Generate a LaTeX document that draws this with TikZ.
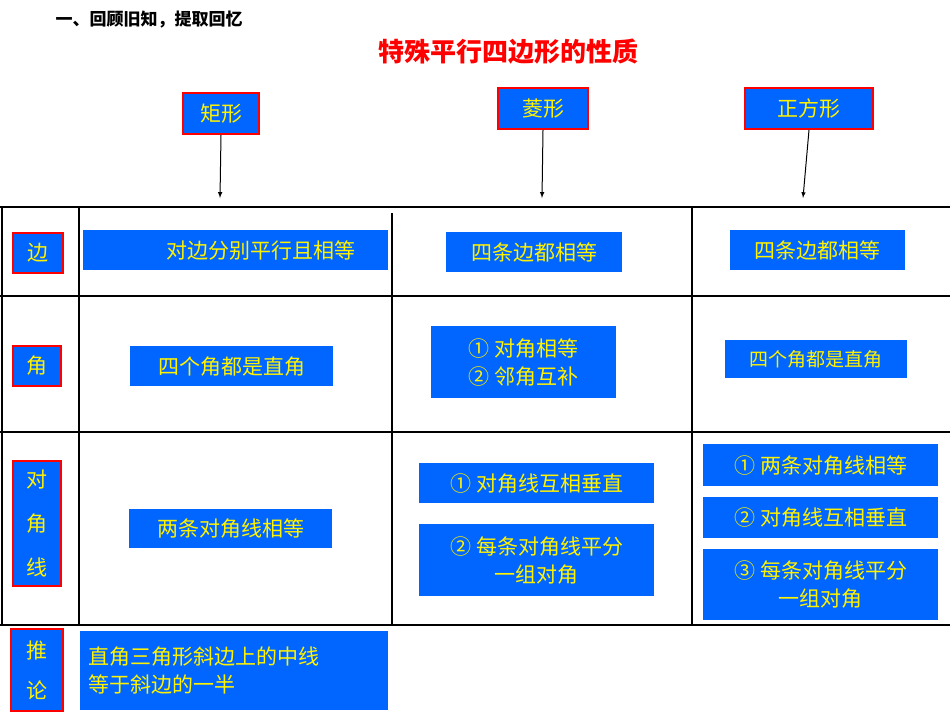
\documentclass[tikz,border=0pt]{standalone}
\usepackage{fontspec}
\setmainfont{Noto Sans CJK SC}[BoldFont={Noto Sans CJK SC Bold}]
\newfontfamily\cjk{Noto Sans CJK SC}
\begin{document}
\begin{tikzpicture}[x=1pt,y=-1pt,
  hdr/.style={draw=red,line width=2pt,fill=blue!60!cyan!100!black,fill={rgb,255:red,0;green,102;blue,255},text=yellow,font=\cjk\fontsize{21}{24}\selectfont,inner sep=0pt,anchor=north west},
  lab/.style={draw=red,line width=2pt,fill={rgb,255:red,0;green,102;blue,255},text=yellow,font=\cjk\fontsize{21}{24}\selectfont,inner sep=0pt,anchor=north west,align=center},
  cell/.style={fill={rgb,255:red,0;green,102;blue,255},text=yellow,font=\cjk\fontsize{21}{28}\selectfont,inner sep=0pt,anchor=north west,align=center},
  grid/.style={line width=1.6pt},
  arr/.style={-latex,line width=1pt}]
\useasboundingbox (0,0) rectangle (950,713);
\node[anchor=west,font=\cjk\bfseries\fontsize{17}{20}\selectfont] (t0) at (52,20) {一、回顾旧知，提取回忆};
\node[text=red,font=\cjk\bfseries\fontsize{26}{30}\selectfont] (t1) at (508,52) {特殊平行四边形的性质};
\node[hdr,minimum width=76,minimum height=41] (h1) at (182,92) {矩形};
\node[hdr,minimum width=90,minimum height=41] (h2) at (497,87) {菱形};
\node[hdr,minimum width=128,minimum height=41] (h3) at (744,87) {正方形};
\coordinate (a1) at (220,198); \coordinate (a2) at (542,198); \coordinate (a3) at (803,198);
\draw[arr] (h1.south) -- (a1);
\draw[arr] (h2.south) -- (a2);
\draw[arr] (h3.south) -- (a3);
% grid
\draw[grid] (0,207) -- (950,207);
\draw[grid] (0,296) -- (950,296);
\draw[grid] (0,432) -- (950,432);
\draw[grid] (0,625) -- (950,625);
\draw[grid] (2,207) -- (2,625);
\draw[grid] (79,207) -- (79,625);
\draw[grid] (392,213) -- (392,625);
\draw[grid] (692,207) -- (692,625);
% row labels
\node[lab,minimum width=50,minimum height=40] (r1) at (12,232) {边};
\node[lab,minimum width=48,minimum height=40] (r2) at (12,345) {角};
\node[lab,minimum width=48,minimum height=125,font=\cjk\fontsize{21}{44}\selectfont] (r3) at (12,460) {对\\角\\线};
\node[lab,minimum width=52,minimum height=82,font=\cjk\fontsize{21}{40}\selectfont] (r4) at (10,628) {推\\论};
% cells
\node[cell,minimum width=305,minimum height=40] (c11) at (83,230) {\hspace*{50pt}对边分别平行且相等};
\node[cell,minimum width=176,minimum height=40] (c12) at (446,232) {四条边都相等};
\node[cell,minimum width=175,minimum height=40] (c13) at (730,230) {四条边都相等};
\node[cell,minimum width=203,minimum height=40] (c21) at (130,346) {四个角都是直角};
\node[cell,minimum width=185,minimum height=72] (c22) at (431,326) {① 对角相等\\② 邻角互补};
\node[cell,minimum width=182,minimum height=38,font=\cjk\fontsize{19}{24}\selectfont] (c23) at (725,340) {四个角都是直角};
\node[cell,minimum width=203,minimum height=39] (c31) at (129,509) {两条对角线相等};
\node[cell,minimum width=235,minimum height=40] (c32a) at (419,463) {① 对角线互相垂直};
\node[cell,minimum width=235,minimum height=72] (c32b) at (419,524) {② 每条对角线平分\\一组对角};
\node[cell,minimum width=235,minimum height=42] (c33a) at (703,444) {① 两条对角线相等};
\node[cell,minimum width=235,minimum height=41] (c33b) at (703,497) {② 对角线互相垂直};
\node[cell,minimum width=235,minimum height=71] (c33c) at (703,549) {③ 每条对角线平分\\一组对角};
\node[cell,minimum width=308,minimum height=79,align=left,text width=300] (c4) at (80,631) {\hspace*{4pt}直角三角形斜边上的中线\\\hspace*{4pt}等于斜边的一半};
\end{tikzpicture}
\end{document}
